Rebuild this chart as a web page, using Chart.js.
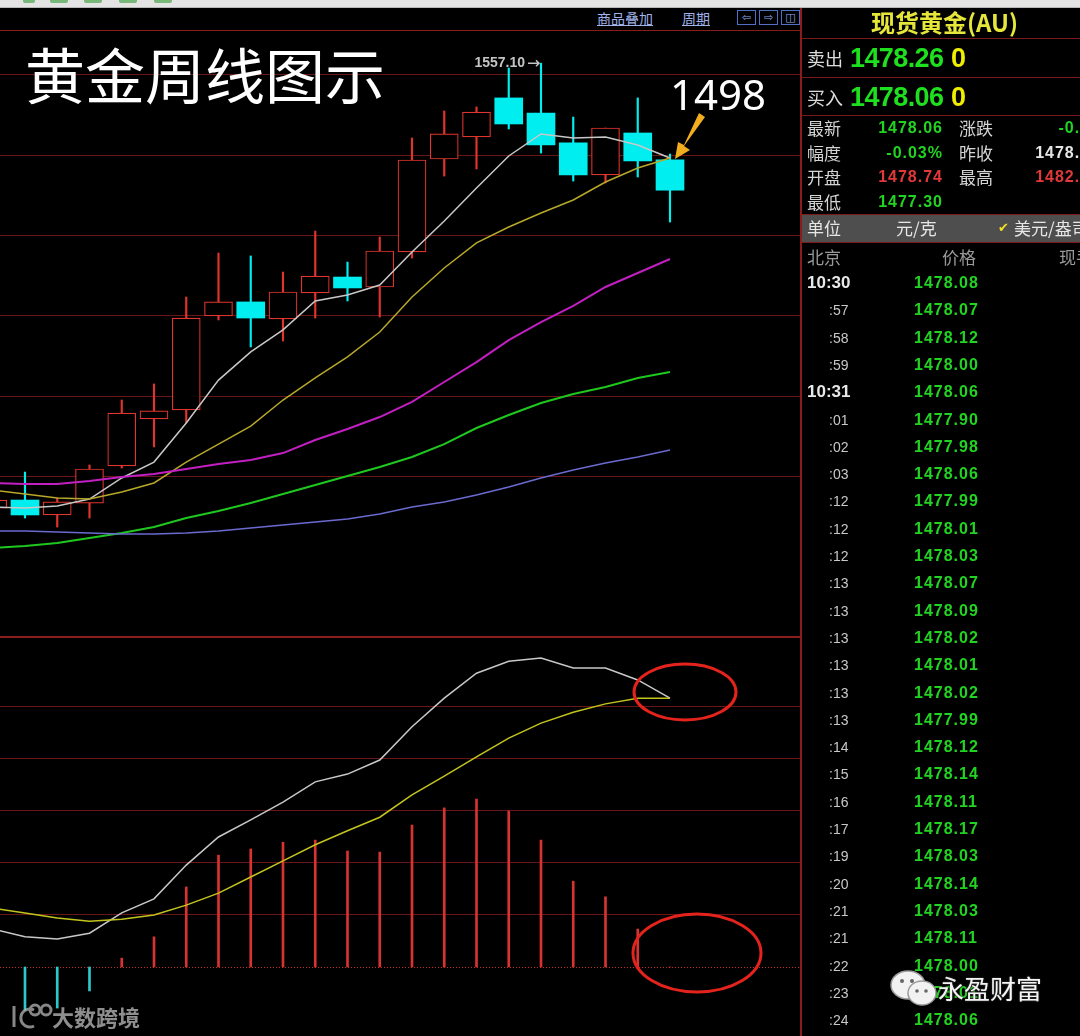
<!DOCTYPE html>
<html>
<head>
<meta charset="utf-8">
<script src="https://cdn.jsdelivr.net/npm/chart.js@4.4.1/dist/chart.umd.min.js"></script>
<style>
  body { margin:0; width:1080px; height:1036px; background:#000; overflow:hidden; position:relative;
         font-family:"Noto Sans CJK SC","Noto Sans",sans-serif; }
  .a { position:absolute; white-space:nowrap; }
  .hl { position:absolute; height:1px; background:#7a1a1a; }
  .ico { position:absolute; top:10px; width:17px; height:13px; border:1px solid #4f6fc8; color:#8fa8f0;
         font-size:11px; line-height:13px; text-align:center; font-family:"DejaVu Sans",sans-serif; }
  .wm { z-index:5; }
</style>
</head>
<body>

<!-- window strip -->
<div class="a" style="left:0;top:0;width:1080px;height:7px;background:#e4e4e4;border-bottom:1px solid #b8b8b8"></div>
<div class="a" style="left:23px;top:0;width:12px;height:3px;background:#78b878;border-radius:0 0 2px 2px"></div>
<div class="a" style="left:50px;top:0;width:18px;height:3px;background:#78b878;border-radius:0 0 2px 2px"></div>
<div class="a" style="left:84px;top:0;width:18px;height:3px;background:#78b878;border-radius:0 0 2px 2px"></div>
<div class="a" style="left:119px;top:0;width:18px;height:3px;background:#78b878;border-radius:0 0 2px 2px"></div>
<div class="a" style="left:154px;top:0;width:18px;height:3px;background:#78b878;border-radius:0 0 2px 2px"></div>

<canvas id="kline" width="800" height="607" class="a" style="left:0;top:30px"></canvas>
<canvas id="macd" width="800" height="399" class="a" style="left:0;top:637px"></canvas>

<!-- panel frame -->
<div class="hl" style="left:0;top:30px;width:800px;background:#8a1c1c"></div>
<div class="hl" style="left:0;top:636px;width:800px;height:2px;background:#8a1c1c"></div>
<div class="a" style="left:800px;top:8px;width:2px;height:1028px;background:#8a1c1c"></div>
<div class="hl" style="left:802px;top:38px;width:278px"></div>
<div class="hl" style="left:802px;top:77px;width:278px"></div>
<div class="hl" style="left:802px;top:115px;width:278px"></div>
<div class="a" style="left:802px;top:214px;width:278px;height:27px;background:#4e4e4e;border-top:1px solid #7a1a1a;border-bottom:1px solid #7a1a1a"></div>

<!-- chart header -->
<div class="a" style="left:597px;top:6px;font-size:14px;line-height:24px;color:#9fb2ea;text-decoration:underline">商品叠加</div>
<div class="a" style="left:682px;top:6px;font-size:14px;line-height:24px;color:#9fb2ea;text-decoration:underline">周期</div>
<div class="ico" style="left:737px">⇦</div>
<div class="ico" style="left:759px">⇨</div>
<div class="ico" style="left:781px">◫</div>

<!-- annotations -->
<svg class="a wm" style="left:0;top:0" width="800" height="1036">
  <polygon points="699,113 705,117 684,146 690,150 675,159 678,142 684,145" fill="#f2ae1e"/>
  <ellipse cx="685" cy="692" rx="51" ry="28" fill="none" stroke="#e4231d" stroke-width="3"/>
  <ellipse cx="697" cy="953" rx="64" ry="39" fill="none" stroke="#e4231d" stroke-width="3"/>
  <g stroke="#b4b4b4" stroke-width="3" fill="none" opacity="0.75">
    <path d="M14 1006 L14 1027"/>
    <path d="M34 1010 A9 9 0 1 0 34 1026"/>
    <circle cx="35" cy="1010" r="5"/>
    <circle cx="46" cy="1010" r="5"/>
  </g>
</svg>
<div class="a wm" style="left:52px;top:996px;font-size:22px;line-height:40px;font-weight:bold;color:rgba(190,190,190,0.75)">大数跨境</div>

<svg class="a wm" style="left:888px;top:968px" width="52" height="42">
  <ellipse cx="20" cy="17" rx="17" ry="14" fill="#f2f2f2" stroke="#9a9a9a" stroke-width="1.5"/>
  <circle cx="14" cy="13" r="2" fill="#666"/><circle cx="24" cy="13" r="2" fill="#666"/>
  <ellipse cx="34" cy="25" rx="14" ry="12" fill="#f2f2f2" stroke="#9a9a9a" stroke-width="1.5"/>
  <circle cx="29" cy="23" r="1.8" fill="#666"/><circle cx="38" cy="23" r="1.8" fill="#666"/>
</svg>
<div class="a wm" style="left:938px;top:968px;font-size:26px;line-height:40px;color:#f4f4f4;text-shadow:0 0 2px #333,0 0 2px #333">永盈财富</div>

<script>
// weekly candles (left partial candle first)
const weeks = [0,1,2,3,4,5,6,7,8,9,10,11,12,13,14,15,16,17,18,19,20,21];
const open  = [1280.4,1285.4,1276.1,1283.5,1306.6,1335.8,1341.4,1399.9,1408.6,1398.0,1414.2,1424.1,1417.9,1439.7,1497.5,1511.2,1535.5,1526.1,1507.5,1487.6,1513.7,1497.0];
const high  = [1287.0,1302.8,1286.7,1307.2,1347.6,1357.6,1411.7,1439.0,1437.2,1427.2,1452.7,1433.4,1449.0,1510.6,1527.4,1529.9,1554.1,1557.1,1523.6,1516.8,1535.5,1500.6];
const low   = [1277.0,1274.2,1268.6,1274.2,1305.3,1318.4,1333.3,1397.4,1380.6,1384.3,1398.6,1409.2,1399.2,1435.9,1486.9,1491.3,1516.2,1501.2,1483.8,1482.6,1486.3,1458.3];
const close = [1285.4,1276.1,1284.2,1304.7,1339.5,1340.8,1398.6,1408.6,1398.6,1414.8,1424.7,1417.3,1440.3,1496.9,1513.1,1526.7,1519.3,1506.2,1487.6,1516.8,1496.3,1478.1];

// moving averages
const ma5  = [1281.1,1280.4,1281.7,1286.0,1299.1,1309.0,1333.3,1360.0,1377.5,1391.2,1409.2,1412.9,1419.1,1439.7,1458.9,1479.5,1499.4,1513.1,1510.6,1511.2,1506.2,1498.1];
const ma10 = [1291.6,1289.1,1286.7,1286.0,1290.4,1296.0,1309.0,1320.2,1331.4,1347.6,1361.3,1374.4,1389.9,1411.7,1429.7,1445.3,1455.2,1463.9,1472.0,1483.2,1491.9,1498.1];
const ma20 = [1296.0,1295.4,1295.4,1297.2,1299.7,1301.6,1304.7,1307.8,1310.3,1314.6,1322.7,1329.6,1337.0,1346.4,1358.8,1371.2,1384.9,1396.1,1406.1,1417.9,1426.6,1435.3];
const ma40 = [1255.6,1256.8,1258.7,1261.8,1264.9,1268.6,1274.2,1278.6,1283.5,1289.1,1294.7,1300.3,1305.9,1312.2,1320.2,1330.2,1338.3,1345.7,1351.3,1355.7,1361.3,1365.0];
const ma60 = [1266.1,1266.1,1265.5,1264.9,1264.3,1264.3,1264.9,1266.1,1268.0,1269.9,1271.7,1273.6,1276.7,1281.1,1284.2,1288.5,1293.5,1299.1,1304.1,1308.4,1312.2,1316.5];

// MACD
const dif  = [7.3,5.8,5.4,6.5,10.4,13.1,19.6,25.0,28.3,31.7,35.6,37.1,39.8,46.2,51.7,56.5,58.8,59.4,57.5,57.5,55.2,51.7];
const dea  = [11.3,10.4,9.4,8.8,9.2,10.0,11.9,14.2,17.3,20.4,23.5,26.2,28.8,33.1,36.7,40.4,44.0,46.9,49.0,50.6,51.7,51.7];
const macd = [-8.0,-8.3,-7.9,-4.6,1.7,5.8,15.4,21.5,22.7,24.0,24.4,22.3,22.1,27.3,30.6,32.3,30.0,24.4,16.5,13.5,7.3,0];

const priceGrid = [1300,1350,1400,1450,1500,1550];
const macdGrid = [10,20,30,40,50];

// quote panel
const tickTimes  = ['10:30',':57',':58',':59','10:31',':01',':02',':03',':12',':12',':12',':13',':13',':13',':13',':13',':13',':14',':15',':16',':17',':19',':20',':21',':21',':22',':23',':24'];
const tickPrices = ['1478.08','1478.07','1478.12','1478.00','1478.06','1477.90','1477.98','1478.06','1477.99','1478.01','1478.03','1478.07','1478.09','1478.02','1478.01','1478.02','1477.99','1478.12','1478.14','1478.11','1478.17','1478.03','1478.14','1478.03','1478.11','1478.00','1478.01','1478.06'];

const RED = '#e0342e', CYAN = '#00eef0';
const up = weeks.map(i => close[i] >= open[i]);

function zeroFit(scale) {
  if (scale.isHorizontal()) scale.height = 0; else scale.width = 0;
}
function xAxis() {
  return { type: 'linear', min: 0.225, max: 25.031, offset: false,
    grid: { display: false }, ticks: { display: false }, border: { display: false }, afterFit: zeroFit };
}
function yAxis(min, max, grid) {
  return { min: min, max: max,
    grid: { color: '#6a1616', lineWidth: 1, drawTicks: false },
    ticks: { display: false }, border: { display: false }, afterFit: zeroFit,
    afterBuildTicks: s => { s.ticks = grid.map(v => ({ value: v })); } };
}
function line(data, color, width) {
  return { type: 'line', data: weeks.map(i => ({ x: i, y: data[i] })), borderColor: color,
    borderWidth: width || 1.5, pointRadius: 0, tension: 0, order: 0 };
}

const highLabel = {
  id: 'highLabel',
  afterDatasetsDraw(chart) {
    const hi = Math.max(...high), i = high.indexOf(hi);
    const x = chart.scales.x.getPixelForValue(i), y = chart.scales.y.getPixelForValue(hi);
    const ctx = chart.ctx;
    ctx.save();
    ctx.fillStyle = '#c4c4c4';
    ctx.strokeStyle = '#c4c4c4';
    ctx.font = 'bold 14px "Liberation Sans", Arial, sans-serif';
    ctx.textAlign = 'right';
    ctx.textBaseline = 'middle';
    ctx.fillText(hi.toFixed(2), x - 16, y);
    ctx.lineWidth = 1.5;
    ctx.beginPath();
    ctx.moveTo(x - 13, y); ctx.lineTo(x - 2, y);
    ctx.moveTo(x - 5, y - 3); ctx.lineTo(x - 2, y); ctx.lineTo(x - 5, y + 3);
    ctx.stroke();
    ctx.restore();
  }
};

new Chart(document.getElementById('kline'), {
  type: 'bar',
  data: {
    datasets: [
      { data: weeks.map(i => ({ x: i, y: [low[i], high[i]] })),
        backgroundColor: weeks.map(i => up[i] ? RED : CYAN),
        barThickness: 1.5, grouped: false, order: 3 },
      { data: weeks.map(i => ({ x: i, y: [open[i], close[i]] })),
        backgroundColor: weeks.map(i => up[i] ? '#000' : CYAN),
        borderColor: weeks.map(i => up[i] ? RED : CYAN),
        borderWidth: weeks.map(i => up[i] ? 1.2 : 0),
        borderSkipped: false, barThickness: 28, grouped: false, order: 2 },
      line(ma60, '#6a6ad0'),
      line(ma40, '#1ec81e', 2),
      line(ma20, '#c21fc2', 2),
      line(ma10, '#b8a82a'),
      line(ma5, '#c8c8c8')
    ]
  },
  options: {
    responsive: false, animation: false, events: [],
    layout: { padding: 0 },
    plugins: { legend: { display: false }, tooltip: { enabled: false } },
    scales: { x: xAxis(), y: yAxis(1200.2, 1577.75, priceGrid) }
  },
  plugins: [highLabel]
});

const zeroLine = {
  id: 'zeroLine',
  beforeDatasetsDraw(chart) {
    const { ctx, chartArea, scales } = chart;
    const y = Math.round(scales.y.getPixelForValue(0)) + 0.5;
    ctx.save();
    ctx.strokeStyle = '#c42a2a';
    ctx.lineWidth = 1;
    ctx.setLineDash([1, 2]);
    ctx.beginPath();
    ctx.moveTo(chartArea.left, y);
    ctx.lineTo(chartArea.right, y);
    ctx.stroke();
    ctx.restore();
  }
};

new Chart(document.getElementById('macd'), {
  type: 'bar',
  data: {
    datasets: [
      { data: weeks.map(i => ({ x: i, y: macd[i] })),
        backgroundColor: weeks.map(i => macd[i] >= 0 ? '#d83232' : '#2ec8cc'),
        barThickness: 2, grouped: false, order: 2 },
      line(dea, '#c4c41e'),
      line(dif, '#c8c8c8')
    ]
  },
  options: {
    responsive: false, animation: false, events: [],
    layout: { padding: 0 },
    plugins: { legend: { display: false }, tooltip: { enabled: false } },
    scales: { x: xAxis(), y: yAxis(-13.27, 63.46, macdGrid) }
  },
  plugins: [zeroLine]
});

// text helper: x = left (or right edge if right), yc = vertical centre
function put(x, yc, s, css, right) {
  const d = document.createElement('div');
  d.className = 'a';
  d.textContent = s;
  d.style.cssText = 'top:' + (yc - 20) + 'px;line-height:40px;' + css;
  if (right) { d.style.left = (x - 200) + 'px'; d.style.width = '200px'; d.style.textAlign = 'right'; }
  else d.style.left = x + 'px';
  document.body.appendChild(d);
  return d;
}
const NUM = 'font-family:"Liberation Sans",Arial,sans-serif;font-weight:bold;';
const GREEN = '#22d422', QRED = '#e2383a';

put(25, 73, '黄金周线图示', 'font-size:60px;color:#fff');
put(670, 94, '1498', 'font-family:"Noto Sans";font-size:42px;color:#fff');

put(871, 22, '现货黄金(AU)', 'font-size:24px;font-weight:bold;color:#e6e63a');
put(807, 58, '卖出', 'font-size:18px;color:#dcdcdc');
put(850, 58, '1478.26', NUM + 'font-size:27px;letter-spacing:-0.6px;color:#1ee01e');
put(951, 58, '0', NUM + 'font-size:27px;color:#f0ee00');
put(807, 97, '买入', 'font-size:18px;color:#dcdcdc');
put(850, 97, '1478.06', NUM + 'font-size:27px;letter-spacing:-0.6px;color:#1ee01e');
put(951, 97, '0', NUM + 'font-size:27px;color:#f0ee00');

const infoRows = [
  ['最新', '1478.06', GREEN, '涨跌', '-0.42', GREEN],
  ['幅度', '-0.03%', GREEN, '昨收', '1478.48', '#e6e6e6'],
  ['开盘', '1478.74', QRED, '最高', '1482.40', QRED],
  ['最低', '1477.30', GREEN, '', '', '']
];
infoRows.forEach((r, k) => {
  const yc = 128 + k * 24.7;
  put(807, yc, r[0], 'font-size:17px;color:#d4d4d4');
  put(943, yc, r[1], NUM + 'font-size:16px;letter-spacing:1px;color:' + r[2], true);
  if (r[3]) {
    put(959, yc, r[3], 'font-size:17px;color:#d4d4d4');
    put(1100, yc, r[4], NUM + 'font-size:16px;letter-spacing:1px;color:' + r[5], true);
  }
});

put(807, 228, '单位', 'font-size:17px;color:#e6e6e6');
put(896, 228, '元/克', 'font-size:17px;color:#e6e6e6');
put(998, 228, '✔', 'font-family:"DejaVu Sans";font-size:13px;color:#f0e020');
put(1014, 228, '美元/盎司', 'font-size:17px;color:#e6e6e6');
put(807, 257, '北京', 'font-size:17px;color:#9a9a9a');
put(942, 257, '价格', 'font-size:17px;color:#9a9a9a');
put(1059, 257, '现手', 'font-size:17px;color:#9a9a9a');

tickTimes.forEach((t, k) => {
  const yc = 283 + k * 27.3;
  if (t[0] === ':') put(829, yc, t, 'font-family:"Liberation Sans",Arial,sans-serif;font-size:14px;color:#c8c8c8');
  else put(807, yc, t, NUM + 'font-size:17px;color:#e8e8e8');
  put(914, yc, tickPrices[k], NUM + 'font-size:16px;letter-spacing:1px;color:' + GREEN);
});
</script>
</body>
</html>
